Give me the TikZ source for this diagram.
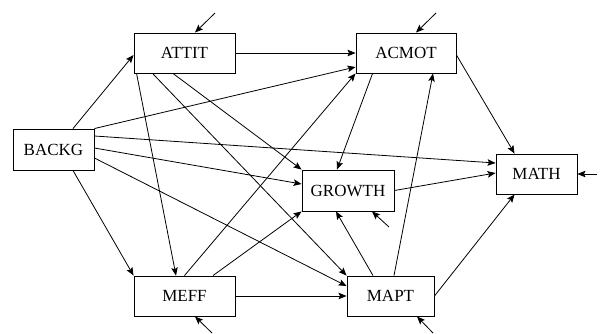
\documentclass[tikz,border=0pt]{standalone}
\usepackage{fontspec}
\setmainfont{Liberation Serif}
\usetikzlibrary{arrows.meta}
\begin{document}
\begin{tikzpicture}[x=1pt,y=-1pt,
  var/.style={draw, line width=0.9pt, inner sep=0pt, minimum height=40pt, font=\fontsize{17}{19}\selectfont},
  edge/.style={line width=0.8pt, -{Stealth[length=8pt,width=6.5pt,inset=1.5pt]}}]
\useasboundingbox (0,0) rectangle (603,333);
\node[var, minimum width=101pt] (ATTIT) at (184.5,53) {ATTIT};
\node[var, minimum width=100pt] (ACMOT) at (406,53) {ACMOT};
\node[var, minimum width=81pt, minimum height=41pt] (BACKG) at (53.5,149.5) {BACKG};
\node[var, minimum width=92pt, minimum height=41pt] (GROWTH) at (348,190.5) {GROWTH};
\node[var, minimum width=81pt] (MATH) at (536.5,174) {MATH};
\node[var, minimum width=101pt] (MEFF) at (184.5,296) {MEFF};
\node[var, minimum width=87pt] (MAPT) at (390.5,296) {MAPT};
% free ends of disturbance arrows
\coordinate (eATTIT) at (215,13);
\coordinate (eACMOT) at (436,13);
\coordinate (eMATH) at (597,174);
\coordinate (eGROWTH) at (389,227);
\coordinate (eMEFF) at (212,333);
\coordinate (eMAPT) at (433,333);
% structural paths
\draw[edge] ([xshift=19.5pt]BACKG.north) -- ([yshift=-2pt]ATTIT.west);
\draw[edge] (ATTIT.east) -- (ACMOT.west);
\draw[edge] (BACKG.north east) -- ([yshift=-14pt]ACMOT.west);
\draw[edge] ([yshift=13.5pt]BACKG.east) -- ([yshift=11pt]MATH.west);
\draw[edge] ([yshift=1.5pt]BACKG.east) -- ([yshift=6.5pt]GROWTH.west);
\draw[edge] ([yshift=-8.5pt]BACKG.east) -- ([yshift=10pt]MAPT.west);
\draw[edge] ([xshift=19.5pt]BACKG.south) -- (MEFF.north west);
\draw[edge] ([xshift=3pt]ATTIT.south west) -- ([xshift=-8.5pt]MEFF.north);
\draw[edge] ([xshift=-11.5pt]ATTIT.south) -- (GROWTH.north west);
\draw[edge] ([xshift=19pt]ATTIT.south west) -- (MAPT.north west);
\draw[edge] (MEFF.north) -- (ACMOT.south west);
\draw[edge] ([xshift=28.5pt]MEFF.north) -- (GROWTH.south west);
\draw[edge] (MEFF.east) -- (MAPT.west);
\draw[edge] ([xshift=17pt]ACMOT.south west) -- ([xshift=-11pt]GROWTH.north);
\draw[edge] ([yshift=-2pt]ACMOT.east) -- ([xshift=19pt]MATH.north west);
\draw[edge] ([xshift=3.5pt]MAPT.north) -- ([xshift=27pt]ACMOT.south);
\draw[edge] ([xshift=-17.5pt]MAPT.north) -- ([xshift=-12pt]GROWTH.south);
\draw[edge] (MAPT.east) -- ([xshift=19pt]MATH.south west);
\draw[edge] (GROWTH.east) -- ([yshift=1pt]MATH.west);
% disturbances
\draw[edge] (eATTIT) -- ([xshift=10.5pt]ATTIT.north);
\draw[edge] (eACMOT) -- ([xshift=10pt]ACMOT.north);
\draw[edge] (eMATH) -- (MATH.east);
\draw[edge] (eGROWTH) -- ([xshift=24pt]GROWTH.south);
\draw[edge] (eMEFF) -- ([xshift=10.5pt]MEFF.south);
\draw[edge] (eMAPT) -- ([xshift=26.5pt]MAPT.south);
\end{tikzpicture}
\end{document}
